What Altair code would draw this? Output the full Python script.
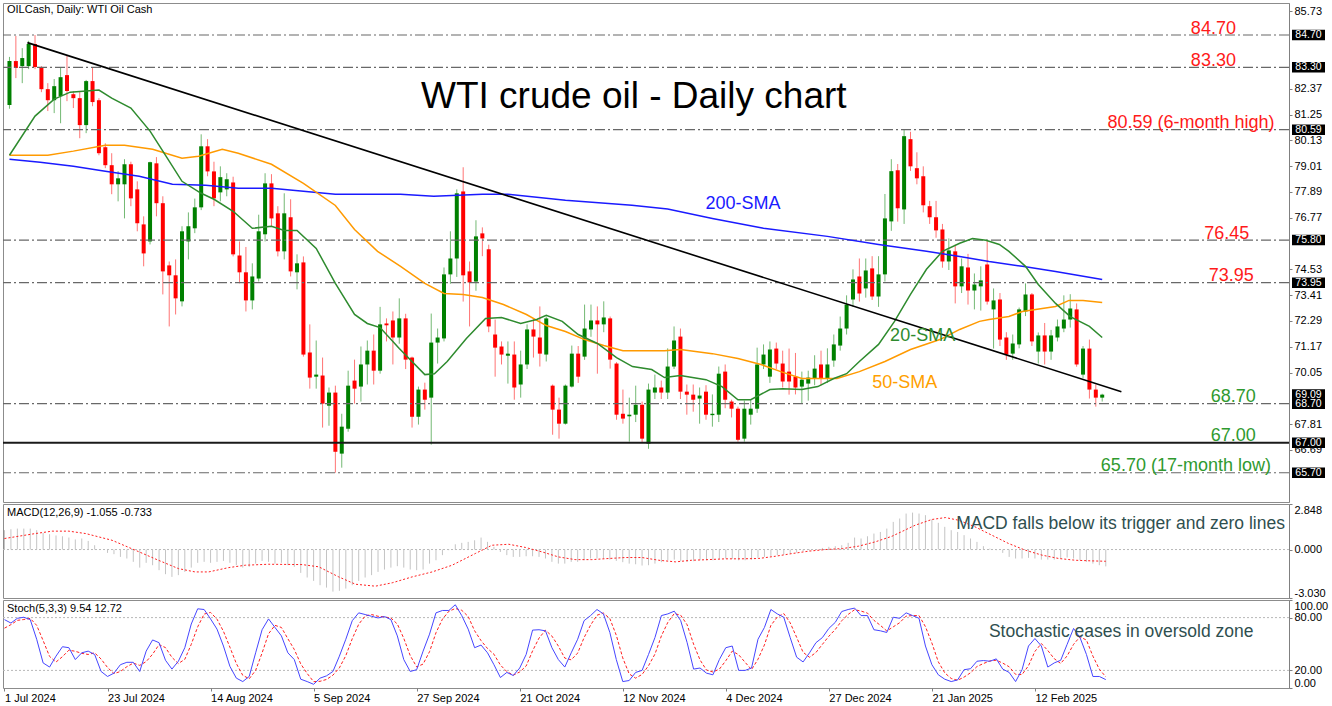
import altair as alt
import pandas as pd

# ---------------- candles (bar 0 = 1 Jul 2024) ----------------
opens = [81.66, 83.57, 83.35, 83.35, 84.31, 83.31, 82.35, 81.87, 82.05, 82.96,
         82.13, 81.96, 80.79, 82.70, 81.87, 79.83, 79.05, 78.22, 78.22, 79.09,
         78.00, 76.48, 75.74, 79.13, 77.40, 74.70, 74.27, 73.14, 75.74, 76.31,
         77.22, 79.87, 78.78, 77.87, 78.00, 78.30, 75.13, 74.40, 73.18, 74.13,
         76.05, 78.26, 76.96, 75.31, 76.79, 74.40, 74.83, 70.92, 69.87, 69.92,
         68.61, 69.18, 66.53, 67.61, 69.70, 69.44, 70.40, 71.00, 70.13, 72.18,
         72.31, 71.57, 72.40, 70.70, 68.13, 69.31, 68.96, 71.35, 71.53, 74.31,
         75.00, 77.91, 74.44, 74.00, 76.09, 75.40, 71.70, 71.18, 70.78, 70.83,
         69.53, 70.40, 71.92, 71.57, 70.83, 69.48, 68.44, 67.83, 69.44, 70.87,
         70.74, 71.92, 72.31, 72.14, 72.40, 70.44, 68.26, 68.15, 68.22, 68.65,
         66.96, 69.18, 69.40, 69.18, 70.31, 71.61, 69.22, 69.09, 68.92, 69.22,
         68.20, 68.22, 70.09, 68.79, 68.48, 67.18, 68.22, 68.48, 70.40, 69.87,
         71.09, 70.44, 70.09, 69.87, 69.44, 69.57, 69.79, 70.40, 69.79, 70.57,
         71.22, 71.96, 73.22, 74.22, 73.70, 74.57, 73.35, 74.31, 76.61, 78.83,
         77.13, 80.18, 78.92, 78.57, 77.27, 76.79, 76.26, 74.87, 75.31, 73.79,
         74.61, 73.61, 73.79, 74.74, 72.79, 73.22, 71.57, 70.87, 71.27, 72.70,
         73.44, 70.96, 71.66, 70.96, 71.57, 71.96, 72.35, 72.79, 69.96, 71.09,
         69.31, 68.96]
highs = [83.75, 84.66, 84.13, 84.45, 84.70, 83.35, 82.61, 82.79, 83.27, 83.79,
         82.27, 82.27, 82.75, 83.27, 81.96, 80.00, 79.57, 78.79, 79.31, 79.20,
         78.35, 76.83, 79.20, 79.40, 77.70, 74.87, 74.96, 76.40, 77.00, 77.60,
         80.39, 80.18, 79.20, 79.00, 78.70, 78.55, 75.74, 75.50, 74.79, 76.90,
         78.70, 78.66, 77.27, 77.83, 77.57, 75.18, 75.09, 72.14, 71.44, 70.70,
         69.40, 69.48, 68.26, 70.13, 70.61, 71.18, 71.44, 71.70, 72.90, 72.40,
         72.70, 73.27, 72.60, 70.74, 69.44, 69.61, 72.61, 71.96, 74.61, 76.18,
         78.00, 78.96, 74.87, 76.66, 76.35, 75.60, 72.35, 71.40, 71.40, 71.40,
         71.00, 72.14, 72.40, 72.92, 72.48, 69.53, 68.96, 69.53, 71.22, 71.20,
         73.00, 73.00, 72.92, 73.14, 72.48, 70.50, 69.31, 68.96, 69.48, 68.79,
         69.57, 69.96, 69.70, 71.10, 72.05, 71.96, 69.53, 69.53, 69.40, 69.50,
         69.10, 70.31, 70.40, 68.87, 68.57, 68.83, 68.87, 71.13, 71.27, 71.40,
         71.35, 71.00, 71.09, 70.90, 70.09, 70.13, 70.80, 71.00, 71.10, 71.70,
         72.48, 73.40, 74.53, 75.00, 75.00, 75.10, 75.10, 77.80, 79.31, 79.10,
         80.59, 80.50, 79.61, 79.00, 77.50, 77.50, 76.50, 75.87, 75.60, 75.00,
         75.20, 74.35, 74.66, 75.80, 73.70, 73.50, 71.80, 71.70, 72.87, 73.92,
         73.50, 71.79, 72.20, 71.90, 72.35, 73.40, 73.45, 73.05, 71.20, 71.48,
         69.53, 69.13]
lows = [81.50, 82.83, 82.61, 83.22, 83.22, 82.22, 81.40, 81.31, 80.87, 81.83,
        81.53, 80.22, 80.44, 81.61, 79.48, 78.92, 77.79, 77.48, 76.74, 77.27,
        76.18, 74.66, 75.61, 76.83, 73.44, 72.05, 72.57, 72.92, 74.96, 76.10,
        77.10, 78.57, 77.27, 77.48, 77.70, 75.09, 73.92, 72.70, 72.79, 74.00,
        75.74, 76.40, 75.09, 74.96, 74.22, 73.66, 70.74, 69.35, 69.35, 67.66,
        67.74, 65.70, 65.92, 67.48, 68.70, 68.79, 69.53, 69.53, 70.00, 71.40,
        70.40, 71.30, 70.20, 67.66, 67.79, 68.44, 66.92, 70.44, 71.40, 73.90,
        74.20, 73.13, 72.05, 73.60, 75.10, 71.80, 69.87, 70.40, 69.57, 68.87,
        68.96, 70.20, 70.70, 70.31, 70.53, 67.35, 67.18, 67.79, 69.40, 69.60,
        70.60, 71.60, 70.00, 71.80, 70.22, 68.00, 67.83, 67.05, 67.90, 67.00,
        66.74, 68.90, 68.90, 68.90, 70.20, 68.90, 68.22, 68.35, 67.83, 68.00,
        67.70, 67.90, 68.50, 68.10, 67.05, 67.05, 67.79, 68.30, 70.20, 69.60,
        70.20, 69.40, 69.09, 69.10, 68.70, 68.83, 69.50, 69.50, 69.60, 70.30,
        71.00, 71.70, 72.90, 73.13, 73.30, 73.20, 72.90, 74.00, 76.20, 76.60,
        76.50, 78.80, 78.22, 77.00, 76.50, 75.90, 74.60, 74.50, 73.05, 73.50,
        73.00, 72.79, 72.74, 73.00, 71.09, 71.20, 70.60, 70.60, 71.10, 72.50,
        71.20, 70.44, 70.40, 70.60, 71.40, 71.80, 72.00, 70.30, 69.80, 68.92,
        68.57, 68.79]
closes = [83.57, 83.27, 83.70, 84.31, 83.31, 82.35, 81.87, 82.48, 82.87, 82.27,
          81.96, 80.79, 82.70, 81.79, 79.57, 79.05, 78.22, 78.48, 79.09, 77.61,
          76.53, 75.22, 79.18, 77.40, 74.44, 74.27, 73.27, 76.18, 76.40, 77.22,
          79.87, 78.78, 77.61, 78.53, 78.44, 75.18, 74.40, 73.18, 74.22, 76.18,
          78.26, 76.74, 75.31, 76.96, 74.44, 74.79, 70.83, 69.83, 69.96, 68.70,
          69.18, 66.61, 67.70, 69.48, 69.35, 70.40, 71.00, 70.13, 72.14, 72.10,
          71.57, 72.40, 70.61, 68.13, 69.31, 68.87, 71.35, 71.57, 74.31, 75.00,
          77.83, 74.27, 73.96, 75.96, 75.87, 72.05, 71.13, 70.83, 70.87, 69.40,
          70.40, 71.92, 71.61, 70.87, 72.40, 68.44, 67.83, 69.48, 70.87, 69.87,
          71.96, 72.31, 72.14, 72.44, 70.61, 68.22, 68.05, 68.22, 68.65, 67.18,
          69.31, 69.40, 69.18, 70.31, 71.44, 69.22, 69.09, 68.87, 69.05, 68.22,
          68.26, 70.00, 68.87, 68.48, 67.13, 68.48, 68.48, 70.40, 70.83, 71.05,
          70.44, 69.66, 69.66, 69.40, 69.74, 69.83, 70.22, 69.79, 70.40, 71.27,
          71.96, 73.00, 74.09, 73.48, 74.48, 73.35, 74.31, 76.74, 78.79, 77.18,
          80.31, 79.00, 78.48, 77.31, 76.79, 76.22, 74.87, 75.35, 73.79, 74.66,
          73.61, 73.87, 74.05, 73.13, 73.18, 71.48, 70.83, 71.31, 72.79, 73.44,
          71.40, 71.66, 70.96, 71.66, 72.05, 72.35, 72.83, 70.40, 71.09, 69.31,
          68.96, 69.09]

# ---------------- moving averages ----------------
sma20_bar = [0, 4, 7, 9.5, 12, 14, 16, 19, 22, 24, 27, 30, 32, 35, 38, 41, 43, 45, 48, 51,
             54, 56, 58, 61, 65, 66.5, 68.5, 71.5, 74.5, 77, 80, 82.5, 84, 86.5, 89, 92, 95,
             97.5, 100.5, 102.5, 105, 109, 111.5, 114, 116, 119, 121, 124, 126.5, 129, 131,
             133, 136, 138.5, 141, 143.5, 146, 148.7, 150.7, 152.8, 154.9, 156.4, 159, 161,
             163.7, 166, 169, 171]
sma20_val = [79.48, 81.18, 81.92, 82.22, 82.27, 82.31, 81.96, 81.53, 80.53, 79.66, 78.35,
             77.83, 77.57, 77.05, 76.31, 76.40, 76.22, 76.22, 75.44, 73.92, 72.57, 72.18,
             72.00, 71.09, 69.96, 70.00, 70.53, 71.53, 72.40, 72.44, 72.18, 72.35, 72.53,
             72.27, 71.70, 71.31, 70.70, 70.31, 70.18, 69.83, 69.92, 69.74, 69.44, 68.87,
             68.87, 69.31, 69.35, 69.31, 69.44, 69.79, 70.00, 70.53, 71.27, 72.27, 73.44,
             74.53, 75.31, 75.66, 75.87, 75.79, 75.61, 75.31, 74.66, 73.87, 73.05, 72.48,
             72.05, 71.57]
sma50_bar = [0, 3, 6, 10, 15, 18, 22.4, 27, 29.6, 33.3, 35.8, 41, 46, 51, 54, 57.6, 61.2,
             65, 68, 71, 74, 77.3, 80.9, 84, 87, 90, 93, 96, 100, 102.5, 105, 110, 114,
             117.6, 120.7, 124, 127, 129.5, 133, 137, 141, 145.6, 148.7, 151.8, 153.3,
             156.4, 158.5, 163.7, 165.8, 168, 171]
sma50_val = [79.48, 79.48, 79.48, 79.66, 79.92, 79.92, 79.74, 79.35, 79.44, 79.74, 79.57,
             79.09, 78.26, 77.30, 76.26, 75.31, 74.66, 73.92, 73.48, 73.44, 73.31, 73.00,
             72.57, 72.09, 71.83, 71.48, 71.22, 71.00, 71.00, 71.00, 71.05, 70.87, 70.66,
             70.40, 70.09, 69.79, 69.79, 69.79, 70.09, 70.53, 71.05, 71.48, 71.92, 72.27,
             72.35, 72.48, 72.70, 72.92, 73.18, 73.18, 73.09]
sma200_bar = [0, 4.8, 10, 15, 20.3, 25.5, 30.7, 35.8, 41, 46, 51, 61.2, 66.4, 74, 78, 87,
              97.4, 103, 110, 118, 128, 136, 143.5, 148.7, 153.3, 158.5, 163.7, 171]
sma200_val = [79.31, 79.18, 79.00, 78.79, 78.57, 78.22, 78.18, 78.05, 78.05, 77.92, 77.79,
              77.79, 77.70, 77.79, 77.79, 77.53, 77.31, 77.15, 76.74, 76.31, 75.96, 75.61,
              75.31, 75.09, 74.87, 74.66, 74.44, 74.09]
trend_bar = [2.8, 174]
trend_val = [84.37, 69.22]

# ---------------- MACD ----------------
macd_hist = [1.21, 1.27, 1.31, 1.31, 1.31, 1.21, 1.04, 0.96, 0.88, 0.83,
             0.75, 0.63, 0.69, 0.54, 0.27, 0.00, -0.21, -0.29, -0.46, -0.56,
             -0.77, -1.13, -0.83, -0.98, -1.29, -1.54, -1.71, -1.60, -1.40, -1.13,
             -0.83, -0.77, -0.83, -0.77, -0.71, -0.83, -0.98, -1.13, -1.08, -0.88,
             -0.71, -0.77, -0.88, -0.83, -0.98, -1.08, -1.46, -1.75, -1.96, -2.23,
             -2.38, -2.63, -2.58, -2.44, -2.23, -1.96, -1.75, -1.60, -1.40, -1.25,
             -1.13, -1.04, -1.13, -1.25, -1.29, -1.25, -0.88, -0.67, -0.35, -0.04,
             0.33, 0.42, 0.48, 0.58, 0.75, 0.48, 0.17, -0.15, -0.35, -0.46,
             -0.46, -0.42, -0.42, -0.46, -0.56, -0.77, -0.88, -0.88, -0.77, -0.77,
             -0.67, -0.56, -0.56, -0.56, -0.63, -0.71, -0.79, -0.88, -0.92, -1.00,
             -0.98, -0.88, -0.79, -0.67, -0.63, -0.73, -0.77, -0.73, -0.67, -0.67,
             -0.67, -0.58, -0.56, -0.58, -0.67, -0.67, -0.63, -0.52, -0.46, -0.40,
             -0.35, -0.31, -0.25, -0.19, -0.10, -0.06, 0.02, 0.10, 0.17, 0.21,
             0.27, 0.42, 0.75, 0.69, 0.83, 1.00, 1.10, 1.31, 1.73, 1.94,
             2.25, 2.31, 2.25, 2.15, 1.88, 1.67, 1.42, 1.21, 1.10, 0.90,
             0.69, 0.48, 0.21, 0.06, -0.04, -0.21, -0.46, -0.56, -0.56, -0.52,
             -0.56, -0.63, -0.63, -0.63, -0.56, -0.50, -0.56, -0.67, -0.77, -0.88,
             -0.98, -1.055]
macd_sig_bar = [0, 4.8, 7.4, 10, 12.6, 16.7, 20.3, 23.9, 27, 29.6, 31.7, 34.8, 37.4, 41,
                46.2, 48.8, 51.9, 54.5, 57.6, 60.2, 63.3, 66.4, 69.5, 73.1, 75.7, 78.3,
                80.9, 83.5, 86, 88.6, 91.2, 93.8, 96.4, 99, 101.6, 104.2, 106.7, 109.3,
                111.9, 114.5, 117.1, 119.7, 122.3, 124.9, 127.5, 130.1, 132.6, 135.2,
                137.8, 141.4, 144, 146.1, 148.2, 150.7, 153.3, 155.9, 158.5, 161.1,
                163.7, 166.3, 168.9, 171]
macd_sig_val = [0.69, 1.0, 1.15, 1.15, 1.0, 0.58, -0.04, -0.67, -1.19, -1.40, -1.40,
                -1.13, -0.98, -0.92, -0.94, -1.08, -1.71, -2.17, -2.29, -2.08, -1.71,
                -1.40, -0.98, -0.25, 0.27, 0.33, 0.13, -0.15, -0.46, -0.63, -0.63,
                -0.56, -0.50, -0.50, -0.67, -0.77, -0.67, -0.63, -0.58, -0.58, -0.56,
                -0.42, -0.25, -0.10, 0.0, 0.06, 0.21, 0.48, 0.83, 1.52, 1.88, 2.0,
                1.83, 1.42, 0.90, 0.38, -0.04, -0.35, -0.56, -0.67, -0.71, -0.733]

# ---------------- Stochastic ----------------
stoch_main = [77.7, 73.8, 79.2, 80.4, 77.7, 55.4, 28.5, 23.8, 36.2, 46.9,
              45.8, 32.3, 40.0, 41.9, 38.1, 18.8, 13.1, 16.9, 26.5, 29.2,
              29.2, 18.8, 41.9, 54.6, 51.5, 31.5, 21.5, 30.4, 45.8, 72.7,
              90.0, 89.2, 78.5, 66.9, 47.7, 24.6, 11.2, 7.3, 13.1, 40.0,
              66.2, 78.5, 68.8, 59.2, 40.0, 32.3, 10.0, 7.3, 4.2, 11.2,
              13.8, 18.8, 36.2, 55.4, 76.5, 85.4, 83.5, 81.5, 79.6, 81.2,
              77.7, 59.2, 32.3, 18.8, 20.8, 41.9, 61.2, 85.4, 88.1, 88.1,
              94.6, 82.3, 66.9, 45.8, 48.8, 40.0, 26.5, 11.9, 17.7, 14.2,
              22.7, 38.1, 65.8, 66.2, 65.0, 45.8, 32.3, 23.8, 40.0, 55.4,
              76.5, 82.3, 89.2, 84.2, 63.1, 32.3, 7.3, 8.5, 17.7, 20.0,
              38.1, 57.3, 82.3, 84.2, 87.3, 76.5, 51.5, 21.5, 22.7, 16.9,
              15.0, 32.3, 45.8, 47.7, 20.0, 20.0, 22.7, 55.4, 68.8, 89.2,
              84.2, 80.4, 57.3, 35.0, 29.6, 40.0, 51.5, 57.3, 67.7, 74.6,
              86.9, 89.2, 90.8, 82.3, 82.3, 66.2, 65.0, 63.1, 80.4, 79.2,
              85.4, 82.3, 79.2, 47.7, 26.5, 15.0, 10.0, 7.3, 9.2, 20.8,
              21.9, 30.4, 31.2, 30.4, 33.1, 21.5, 17.7, 7.3, 20.8, 47.7,
              56.2, 47.7, 23.8, 28.5, 31.5, 49.6, 67.7, 57.3, 38.1, 13.1,
              13.1, 9.54]
stoch_signal = [68.0, 72.0, 76.9, 77.8, 79.1, 71.2, 53.9, 35.9, 29.5, 35.6,
                43.0, 41.7, 39.4, 38.1, 40.0, 32.9, 23.3, 16.3, 18.8, 24.2,
                28.3, 25.7, 30.0, 38.4, 49.3, 45.9, 34.8, 27.8, 32.6, 49.6,
                69.5, 84.0, 85.9, 78.2, 64.4, 46.4, 27.8, 14.4, 10.5, 20.1,
                39.8, 61.6, 71.2, 68.8, 56.0, 43.8, 27.4, 16.5, 7.2, 7.6,
                9.7, 14.6, 22.9, 36.8, 56.0, 72.4, 81.8, 83.5, 81.5, 80.8,
                79.5, 72.7, 56.4, 36.8, 24.0, 27.2, 41.3, 62.8, 78.2, 87.2,
                90.3, 88.3, 81.3, 65.0, 53.8, 44.9, 38.4, 26.1, 18.7, 14.6,
                18.2, 25.0, 42.2, 56.7, 65.7, 59.0, 47.7, 34.0, 32.0, 39.7,
                57.3, 71.4, 82.7, 85.2, 78.8, 59.9, 34.2, 16.0, 11.2, 15.4,
                25.3, 38.5, 59.2, 74.6, 84.6, 82.7, 71.8, 49.8, 31.9, 20.4,
                18.2, 21.4, 31.0, 41.9, 37.8, 29.2, 20.9, 32.7, 49.0, 71.1,
                80.7, 84.6, 74.0, 57.6, 40.6, 34.9, 40.4, 49.6, 58.8, 66.5,
                76.4, 83.6, 89.0, 87.4, 85.1, 76.9, 71.2, 64.8, 69.5, 74.2,
                81.7, 82.3, 82.3, 69.7, 51.1, 29.7, 17.2, 10.8, 8.8, 12.4,
                17.3, 24.4, 27.8, 30.7, 31.6, 28.3, 24.1, 15.5, 15.3, 25.3,
                41.6, 50.5, 42.6, 33.3, 27.9, 36.5, 49.6, 58.2, 54.4, 36.2,
                21.4, 12.72]

# ---------------- axes / levels / texts ----------------
x_tick_bars = [0, 16, 32, 48, 64, 80, 96, 112, 128, 144, 160]
x_tick_labels = ["1 Jul 2024", "23 Jul 2024", "14 Aug 2024", "5 Sep 2024", "27 Sep 2024",
                 "21 Oct 2024", "12 Nov 2024", "4 Dec 2024", "27 Dec 2024", "21 Jan 2025",
                 "12 Feb 2025"]
# scale labels that are not covered by the boxed price labels
price_ticks = [85.73, 82.37, 81.25, 80.13, 79.01, 77.89, 76.77,
               74.53, 73.41, 72.29, 71.17, 70.05, 67.81, 66.69]
macd_ticks = [2.848, 0.0, -3.03]
macd_tick_labels = ["2.848", "0.000", "-3.030"]
stoch_ticks = [100, 80, 20, 0]
stoch_tick_labels = ["100.00", "80.00", "20.00", "0.00"]

dash_levels = [84.70, 83.30, 80.59, 75.80, 73.95, 68.70, 65.70]
solid_levels = [67.00]

level_texts = ["84.70", "83.30", "80.59 (6-month high)", "76.45", "73.95",
               "68.70", "67.00", "65.70 (17-month low)"]
level_text_price = [84.70, 83.30, 80.59, 75.80, 73.95, 68.70, 67.00, 65.70]
level_text_bar = [188.4, 188.4, 184.9, 190.5, 191.2, 191.5, 191.5, 184.1]
level_text_color = ["#ff1a1a"] * 5 + ["#2f9a2f"] * 3

box_prices = [84.70, 83.30, 80.59, 75.80, 73.95, 69.09, 68.70, 67.00, 65.70]
box_texts = ["84.70", "83.30", "80.59", "75.80", "73.95", "69.09", "68.70", "67.00", "65.70"]

sma_label_texts = ["200-SMA", "20-SMA", "50-SMA"]
sma_label_bar = [114.8, 142.9, 140.1]
sma_label_price = [77.15, 71.42, 69.38]
sma_label_color = ["#1a1aff", "#2e8b2e", "#ff9f00"]

title_text = "WTI crude oil - Daily chart"
header_main = "OILCash, Daily:  WTI Oil Cash"
header_macd = "MACD(12,26,9) -1.055 -0.733"
header_stoch = "Stoch(5,3,3) 9.54 12.72"
note_macd = "MACD falls below its trigger and zero lines"
note_stoch = "Stochastic eases in oversold zone"

# ---------------- build ----------------
FONT = "Liberation Sans"
W = 1286
XS = alt.Scale(domain=[-0.23, 199.45], nice=False, zero=False)
YS = alt.Scale(domain=[64.43, 86.09], nice=False, zero=False)
MS = alt.Scale(domain=[-3.03, 2.848], nice=False, zero=False)
SS = alt.Scale(domain=[0, 100], nice=False, zero=False)


def lab_expr(vals, labels):
    return ("[" + ",".join(repr(s) for s in labels) + "][indexof(["
            + ",".join(str(v) for v in vals) + "], datum.value)]")


axis_common = dict(labelFont=FONT, labelFontSize=11, labelColor="#000000", tickSize=3,
                   tickColor="#808080", domainColor="#808080", grid=False, title=None,
                   labelOverlap=False, labelPadding=2)
y_axis_main = alt.Axis(orient="right", values=price_ticks, format=".2f", labelFlush=False,
                       **axis_common)
y_axis_macd = alt.Axis(orient="right", values=macd_ticks,
                       labelExpr=lab_expr(macd_ticks, macd_tick_labels), labelFlush=True,
                       **axis_common)
y_axis_stoch = alt.Axis(orient="right", values=stoch_ticks,
                        labelExpr=lab_expr(stoch_ticks, stoch_tick_labels), labelFlush=True,
                        **axis_common)
x_axis_bottom = alt.Axis(values=x_tick_bars, labelExpr=lab_expr(x_tick_bars, x_tick_labels),
                         labelAlign="left", labelFlush=False, labelOverlap=False,
                         labelFont=FONT, labelFontSize=11, labelColor="#000000",
                         tickSize=3, tickColor="#808080", domain=False, grid=False,
                         title=None, labelPadding=1)


def XN(f):
    return alt.X(f, type="quantitative", scale=XS, axis=None)


def XB(f):
    return alt.X(f, type="quantitative", scale=XS, axis=x_axis_bottom)


def YM(f):
    return alt.Y(f, type="quantitative", scale=YS, axis=y_axis_main)


def YMA(f):
    return alt.Y(f, type="quantitative", scale=MS, axis=y_axis_macd)


def YST(f):
    return alt.Y(f, type="quantitative", scale=SS, axis=y_axis_stoch)


idx = list(range(len(opens)))
cdf = pd.DataFrame({"i": idx, "o": opens, "h": highs, "l": lows, "c": closes})
cdf["dir"] = ["up" if c >= o else "down" for o, c in zip(opens, closes)]
candle_color = alt.Color("dir:N", scale=alt.Scale(domain=["up", "down"],
                                                  range=["#008000", "#ff0000"]), legend=None)

wicks = alt.Chart(cdf).mark_rule(strokeWidth=1, opacity=0.55).encode(
    x=XN("i"), y=YM("l"), y2="h", color=candle_color)
bodies = alt.Chart(cdf).mark_bar(size=4).encode(
    x=XN("i"), y=YM("o"), y2="c", color=candle_color)

dash_rules = alt.Chart(pd.DataFrame({"p": dash_levels})).mark_rule(
    color="#686868", strokeWidth=1.2, strokeDash=[10, 3, 2, 3]).encode(y=YM("p"))
solid_rules = alt.Chart(pd.DataFrame({"p": solid_levels})).mark_rule(
    color="#1a1a1a", strokeWidth=2).encode(y=YM("p"))


def line_layer(bars, vals, color, width=1.5):
    return alt.Chart(pd.DataFrame({"i": bars, "v": vals})).mark_line(
        color=color, strokeWidth=width).encode(x=XN("i"), y=YM("v"))


sma200 = line_layer(sma200_bar, sma200_val, "#1a1aff")
sma50 = line_layer(sma50_bar, sma50_val, "#ff9a00")
sma20 = line_layer(sma20_bar, sma20_val, "#2e8b2e")
trend = line_layer(trend_bar, trend_val, "#000000", 1.6)

title_layer = alt.Chart(pd.DataFrame({"i": [97.7], "p": [81.53], "t": [title_text]})).mark_text(
    font=FONT, fontSize=37, align="center", baseline="alphabetic", color="#000000").encode(
    x=XN("i"), y=YM("p"), text="t:N")

lvl_text = alt.Chart(pd.DataFrame({"i": level_text_bar, "p": level_text_price,
                                   "t": level_texts, "col": level_text_color})).mark_text(
    font=FONT, fontSize=18, align="center", baseline="alphabetic", dy=-1.5).encode(
    x=XN("i"), y=YM("p"), text="t:N", color=alt.Color("col:N", scale=None))

sma_text = alt.Chart(pd.DataFrame({"i": sma_label_bar, "p": sma_label_price,
                                   "t": sma_label_texts, "col": sma_label_color})).mark_text(
    font=FONT, fontSize=18, align="center", baseline="alphabetic").encode(
    x=XN("i"), y=YM("p"), text="t:N", color=alt.Color("col:N", scale=None))

header1 = alt.Chart(pd.DataFrame({"t": [header_main]})).mark_text(
    font=FONT, fontSize=11, align="left", baseline="middle", color="#000000").encode(
    x=alt.value(4), y=alt.value(7), text="t:N")

box_df = pd.DataFrame({"p": box_prices, "t": box_texts})
boxes = alt.Chart(box_df).transform_calculate(
    top="datum.p + 0.23", bot="datum.p - 0.23").mark_rect(color="#000000").encode(
    x=alt.value(W + 3), x2=alt.value(W + 36), y=YM("top"), y2="bot")
box_labels = alt.Chart(box_df).mark_text(
    font=FONT, fontSize=10.5, align="center", baseline="middle", color="#ffffff").encode(
    x=alt.value(W + 19.5), y=YM("p"), text="t:N")

main = alt.layer(wicks, bodies, dash_rules, solid_rules, sma200, sma50, sma20, trend,
                 title_layer, lvl_text, sma_text, header1, boxes, box_labels).properties(
    width=W, height=499)

# MACD panel
mdf = pd.DataFrame({"i": idx, "m": macd_hist})
hist = alt.Chart(mdf).mark_rule(color="#c4c4c4", strokeWidth=1).encode(
    x=XN("i"), y=YMA("m"), y2=alt.datum(0))
zero_line = alt.Chart(pd.DataFrame({"z": [0.0]})).mark_rule(
    color="#b8b8b8", strokeDash=[2, 2], strokeWidth=1).encode(y=YMA("z"))
macd_sig = alt.Chart(pd.DataFrame({"i": macd_sig_bar, "v": macd_sig_val})).mark_line(
    color="#ff2020", strokeDash=[2, 2], strokeWidth=1).encode(x=XN("i"), y=YMA("v"))
header2 = alt.Chart(pd.DataFrame({"t": [header_macd]})).mark_text(
    font=FONT, fontSize=11, align="left", baseline="middle", color="#000000").encode(
    x=alt.value(4), y=alt.value(9), text="t:N")
note1 = alt.Chart(pd.DataFrame({"i": [173.3], "v": [1.58], "t": [note_macd]})).mark_text(
    font=FONT, fontSize=17.5, align="center", baseline="middle", color="#2f4f4f").encode(
    x=XN("i"), y=YMA("v"), text="t:N")
macd_panel = alt.layer(zero_line, hist, macd_sig, header2, note1).properties(width=W, height=94)

# Stochastic panel
sdf = pd.DataFrame({"i": idx, "k": stoch_main, "d": stoch_signal})
st_lines = alt.Chart(pd.DataFrame({"z": [80, 20]})).mark_rule(
    color="#b8b8b8", strokeDash=[2, 2], strokeWidth=1).encode(y=YST("z"))
st_main = alt.Chart(sdf).mark_line(color="#4646ff", strokeWidth=1).encode(
    x=XB("i"), y=YST("k"))
st_sig = alt.Chart(sdf).mark_line(color="#ff2020", strokeDash=[3, 2], strokeWidth=1).encode(
    x=XB("i"), y=YST("d"))
header3 = alt.Chart(pd.DataFrame({"t": [header_stoch]})).mark_text(
    font=FONT, fontSize=11, align="left", baseline="middle", color="#000000").encode(
    x=alt.value(4), y=alt.value(9), text="t:N")
note2 = alt.Chart(pd.DataFrame({"i": [173.4], "v": [63.1], "t": [note_stoch]})).mark_text(
    font=FONT, fontSize=17.5, align="center", baseline="middle", color="#2f4f4f").encode(
    x=XB("i"), y=YST("v"), text="t:N")
stoch_panel = alt.layer(st_lines, st_sig, st_main, header3, note2).properties(width=W, height=88)

chart = alt.vconcat(main, macd_panel, stoch_panel, spacing=2, bounds="flush").properties(
    padding={"left": 1, "top": 2, "right": 0, "bottom": 0},
    background="#ffffff").configure_view(stroke="#8c8c8c", strokeWidth=1)

chart.save("out.html", embed_options={"renderer": "svg", "actions": False})
